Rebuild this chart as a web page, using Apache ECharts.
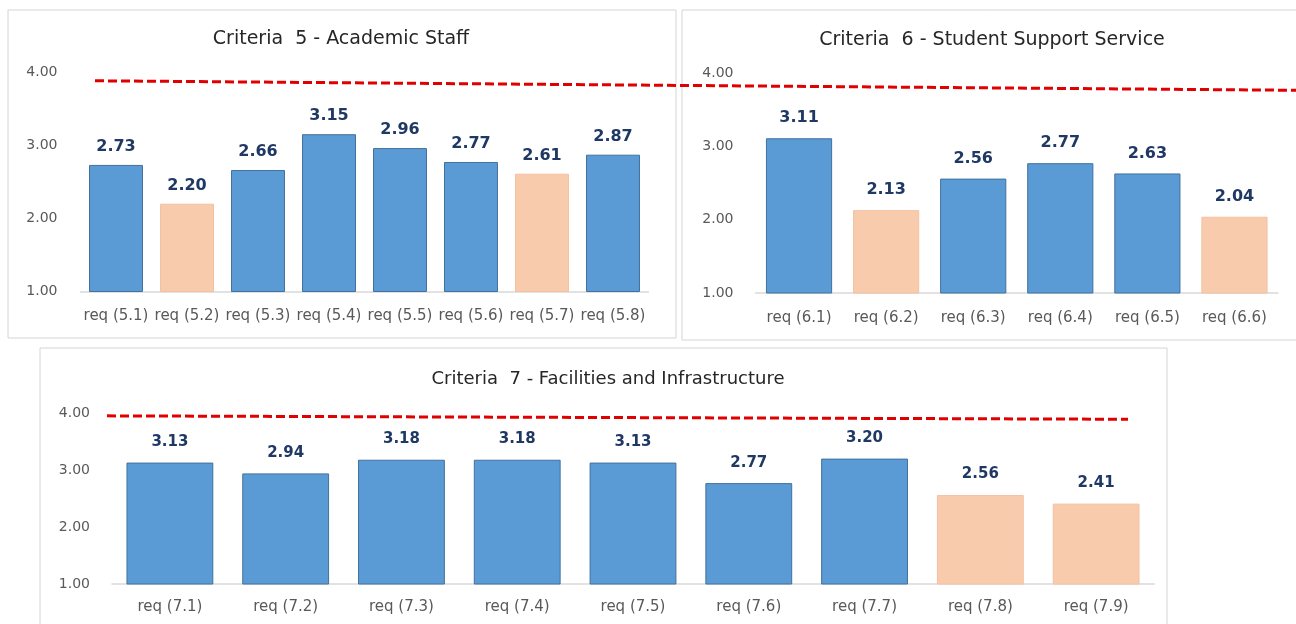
<!DOCTYPE html>
<html>
<head>
<meta charset="utf-8">
<title>Criteria 5 - 7</title>
<script src="https://cdn.jsdelivr.net/npm/echarts/dist/echarts.min.js"></script>
<style>
  html, body { margin: 0; padding: 0; background: #fff; }
  #main { width: 1296px; height: 624px; }
</style>
</head>
<body>
<div id="main"></div>
<script>
// 数据
var cats5 = ['req (5.1)', 'req (5.2)', 'req (5.3)', 'req (5.4)', 'req (5.5)', 'req (5.6)', 'req (5.7)', 'req (5.8)'];
var vals5 = [2.73, 2.20, 2.66, 3.15, 2.96, 2.77, 2.61, 2.87];
var low5  = [0, 1, 0, 0, 0, 0, 1, 0];

var cats6 = ['req (6.1)', 'req (6.2)', 'req (6.3)', 'req (6.4)', 'req (6.5)', 'req (6.6)'];
var vals6 = [3.11, 2.13, 2.56, 2.77, 2.63, 2.04];
var low6  = [0, 1, 0, 0, 0, 1];

var cats7 = ['req (7.1)', 'req (7.2)', 'req (7.3)', 'req (7.4)', 'req (7.5)', 'req (7.6)', 'req (7.7)', 'req (7.8)', 'req (7.9)'];
var vals7 = [3.13, 2.94, 3.18, 3.18, 3.13, 2.77, 3.20, 2.56, 2.41];
var low7  = [0, 0, 0, 0, 0, 0, 0, 1, 1];

var titles = ['Criteria  5 - Academic Staff', 'Criteria  6 - Student Support Service', 'Criteria  7 - Facilities and Infrastructure'];
var yMin = 1, yMax = 4, yStep = 1;

// 红色虚线 (target) 两端的值
var targetTop = [3.88, 3.75];     // 上面两个图共用
var targetBottom = [3.95, 3.89];  // 下面的图

var blue = '#5b9bd5', peach = '#f8cbad';

function barData(vals, low) {
  var arr = [];
  for (var i = 0; i < vals.length; i++) {
    arr.push({
      value: vals[i],
      itemStyle: low[i]
        ? { color: peach, borderColor: '#f4c0a0', borderWidth: 1 }
        : { color: blue, borderColor: '#41719c', borderWidth: 1 }
    });
  }
  return arr;
}

function lineData(v) {
  return [[0, v[0]], [1, v[1]]];
}

function catAxis(idx, cats, size, margin) {
  return {
    type: 'category', gridIndex: idx, data: cats,
    axisLine: { lineStyle: { color: '#d9d9d9', width: 1.5 } },
    axisTick: { show: false },
    axisLabel: { interval: 0, color: '#595959', fontSize: size, margin: margin, fontFamily: 'DejaVu Sans' }
  };
}

function valAxis(idx, margin) {
  return {
    type: 'value', gridIndex: idx, min: yMin, max: yMax, interval: yStep,
    splitLine: { show: false },
    axisLine: { show: false }, axisTick: { show: false },
    axisLabel: {
      color: '#595959', fontSize: 14, margin: margin, fontFamily: 'DejaVu Sans',
      formatter: function (v) { return v.toFixed(2); }
    }
  };
}

function hiddenVal(idx, min, max) {
  return { type: 'value', gridIndex: idx, min: min, max: max, show: false };
}

function barSeries(idx, data, width, fs, dist) {
  return {
    type: 'bar', xAxisIndex: idx, yAxisIndex: idx, data: data, barWidth: width,
    label: {
      show: true, position: 'top', distance: dist,
      color: '#1f3864', fontWeight: 'bold', fontSize: fs, fontFamily: 'DejaVu Sans',
      formatter: function (p) { return p.value.toFixed(2); }
    }
  };
}

function dashSeries(idx, data) {
  return {
    type: 'line', xAxisIndex: idx, yAxisIndex: idx, data: data,
    symbol: 'none', silent: true, z: 10,
    lineStyle: { color: '#e00000', width: 3, type: [9, 4] }
  };
}

var chart = echarts.init(document.getElementById('main'));

var titleStyle = { fontWeight: 'normal', color: '#262626', fontFamily: 'DejaVu Sans' };

var option = {
  backgroundColor: '#fff',
  animation: false,
  // 三个面板的边框
  graphic: [
    { type: 'rect', shape: { x: 8, y: 10, width: 668, height: 328 }, style: { fill: 'none', stroke: '#d4d4d4', lineWidth: 1 }, z: -1 },
    { type: 'rect', shape: { x: 682, y: 10, width: 640, height: 330 }, style: { fill: 'none', stroke: '#d4d4d4', lineWidth: 1 }, z: -1 },
    { type: 'rect', shape: { x: 40, y: 348, width: 1127, height: 300 }, style: { fill: 'none', stroke: '#d4d4d4', lineWidth: 1 }, z: -1 }
  ],
  title: [
    { text: titles[0], left: 336, top: 25, textAlign: 'center', textStyle: echarts.util.extend({ fontSize: 19 }, titleStyle) },
    { text: titles[1], left: 987, top: 26, textAlign: 'center', textStyle: echarts.util.extend({ fontSize: 19 }, titleStyle) },
    { text: titles[2], left: 603, top: 365, textAlign: 'center', textStyle: echarts.util.extend({ fontSize: 18 }, titleStyle) }
  ],
  grid: [
    { left: 80.5, top: 72, width: 568, height: 219.5 },
    { left: 755.5, top: 73, width: 522.5, height: 220 },
    { left: 112, top: 413, width: 1042, height: 171 },
    { left: 95, top: 72, right: 0, height: 219.5 },   // 上面的虚线
    { left: 107, top: 413, width: 1021, height: 171 } // 下面的虚线
  ],
  xAxis: [
    catAxis(0, cats5, 15, 17),
    catAxis(1, cats6, 15, 18),
    catAxis(2, cats7, 15, 16),
    hiddenVal(3, 0, 1),
    hiddenVal(4, 0, 1)
  ],
  yAxis: [
    valAxis(0, 23),
    valAxis(1, 22),
    valAxis(2, 22),
    hiddenVal(3, yMin, yMax),
    hiddenVal(4, yMin, yMax)
  ],
  series: [
    barSeries(0, barData(vals5, low5), '76%', 16, 10),
    barSeries(1, barData(vals6, low6), '76%', 16, 12),
    barSeries(2, barData(vals7, low7), '75%', 15, 13),
    dashSeries(3, lineData(targetTop)),
    dashSeries(4, lineData(targetBottom))
  ]
};

chart.setOption(option);
</script>
</body>
</html>
